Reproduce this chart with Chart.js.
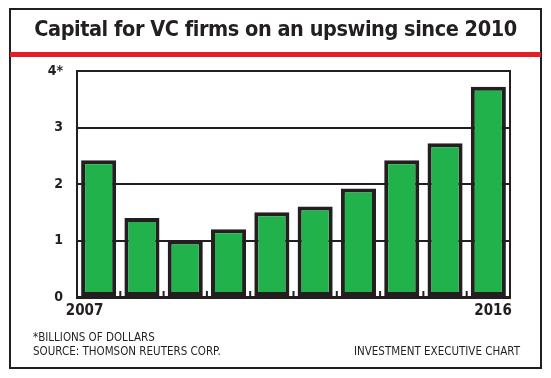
<!DOCTYPE html>
<html>
<head>
<meta charset="utf-8">
<script src="https://cdn.jsdelivr.net/npm/chart.js@4.4.1/dist/chart.umd.min.js"></script>
<style>
  html, body { margin: 0; padding: 0; background: #fff; }
  #wrap { position: relative; width: 551px; height: 378px; background: #fff; overflow: hidden; }
  #c { position: absolute; left: 0; top: 0; }
  .frame { position: absolute; left: 9px; top: 8px; width: 533px; height: 361px; border: 2px solid #231f20; box-sizing: border-box; }
  .redline { position: absolute; left: 10px; top: 52px; width: 531px; height: 5px; background: #e31e25; }
  .title { position: absolute; left: 10px; width: 531px; top: 16px; text-align: center; white-space: nowrap;
           font-family: "DejaVu Sans Condensed", "Liberation Sans Narrow", sans-serif; font-weight: bold;
           font-size: 21.5px; line-height: 26px; letter-spacing: -0.45px; color: #231f20; }
  .foot { position: absolute; font-family: "DejaVu Sans Condensed", "Liberation Sans Narrow", sans-serif;
          font-size: 11.5px; line-height: 14px; color: #231f20; white-space: nowrap; }
</style>
</head>
<body>
<div id="wrap">
  <canvas id="c" width="551" height="378"></canvas>
  <div class="frame"></div>
  <div class="title">Capital for VC firms on an upswing since 2010</div>
  <div class="redline"></div>
  <div class="foot" style="left:33px; top:330px;">*BILLIONS OF DOLLARS<br>SOURCE: THOMSON REUTERS CORP.</div>
  <div class="foot" style="right:31px; top:344px;">INVESTMENT EXECUTIVE CHART</div>
</div>
<script>
const years = ['2007','2008','2009','2010','2011','2012','2013','2014','2015','2016'];
const capital = [2.42, 1.4, 1.0, 1.2, 1.5, 1.6, 1.92, 2.42, 2.72, 3.72];
const yTicks = ['0','1','2','3','4*'];

const ink = '#231f20';
const fontFam = '"DejaVu Sans Condensed", "Liberation Sans Narrow", sans-serif';

const framePlugin = {
  id: 'framePlugin',
  afterDatasetsDraw(chart) {
    const { ctx, chartArea: a, scales: { x } } = chart;
    ctx.save();
    ctx.strokeStyle = ink;
    ctx.lineWidth = 2;
    ctx.beginPath();
    ctx.moveTo(a.left, a.top);
    ctx.lineTo(a.right, a.top);
    ctx.lineTo(a.right, a.bottom);
    ctx.stroke();
    ctx.beginPath();
    for (let i = 1; i < years.length; i++) {
      const px = (x.getPixelForValue(i - 1) + x.getPixelForValue(i)) / 2;
      ctx.moveTo(px, a.bottom);
      ctx.lineTo(px, a.bottom - 6);
    }
    ctx.stroke();
    ctx.restore();
  }
};

new Chart(document.getElementById('c'), {
  type: 'bar',
  data: {
    labels: years,
    datasets: [{
      data: capital,
      backgroundColor: '#22b24c',
      borderColor: ink,
      borderWidth: 4,
      borderSkipped: false,
      barPercentage: 0.81,
      categoryPercentage: 1.0
    }]
  },
  options: {
    responsive: false,
    animation: false,
    devicePixelRatio: 1,
    layout: { padding: { left: 27, right: 41, top: 71, bottom: 59 } },
    plugins: { legend: { display: false }, tooltip: { enabled: false }, title: { display: false } },
    scales: {
      x: {
        grid: { display: false, drawTicks: false },
        border: { display: true, color: ink, width: 3 },
        ticks: {
          autoSkip: false,
          maxRotation: 0,
          padding: 5,
          color: ink,
          font: { family: fontFam, size: 15, weight: 'bold' },
          callback: (v, i) => i === 0 ? years[i] + '      ' : (i === years.length - 1 ? '  ' + years[i] : '')
        },
        afterFit: s => { s.height = 22; }
      },
      y: {
        min: 0, max: 4,
        grid: { color: ink, lineWidth: 2, drawTicks: false },
        border: { display: true, color: ink, width: 2 },
        ticks: {
          stepSize: 1,
          padding: 14,
          color: ink,
          font: { family: fontFam, size: 14, weight: 'bold' },
          callback: v => yTicks[v]
        },
        afterFit: s => { s.width = 50; }
      }
    }
  },
  plugins: [framePlugin]
});
</script>
</body>
</html>
